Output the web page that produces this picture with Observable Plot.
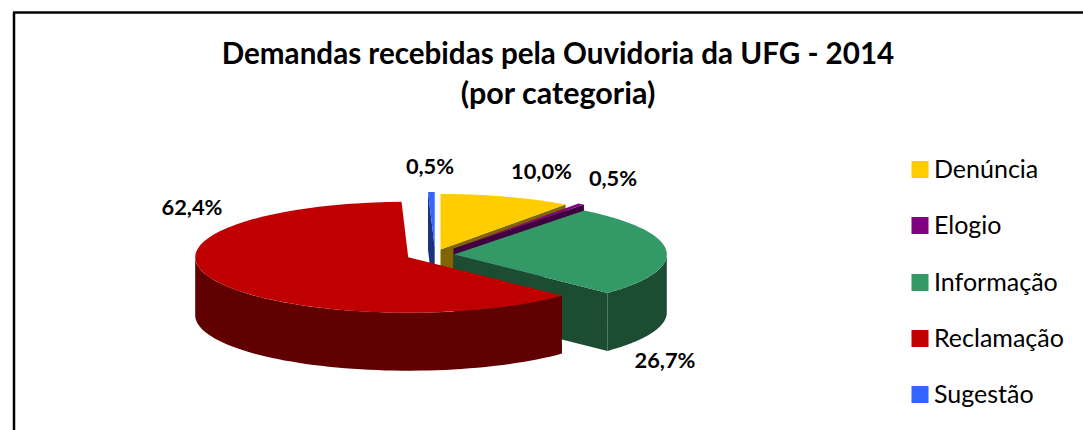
<!DOCTYPE html>
<html><head><meta charset="utf-8">
<style>html,body{margin:0;padding:0;background:#fff;overflow:hidden}svg{display:block}</style>
<script src="https://cdn.jsdelivr.net/npm/d3@7"></script>
<script src="https://cdn.jsdelivr.net/npm/@observablehq/plot@0.6"></script>
</head><body><div id="chart"></div>
<script>
const categories = ["Denúncia", "Elogio", "Informação", "Reclamação", "Sugestão"];
const shares = [10.0, 0.5, 26.7, 62.4, 0.5];
const shareLabels = ["10,0%", "0,5%", "26,7%", "62,4%", "0,5%"];
const topColors = ["#ffcc00", "#800080", "#339966", "#c00000", "#3366ff"];
const sideColors = ["#806600", "#400040", "#1c4d33", "#600000", "#1a3380"];
const titleLines = ["Demandas recebidas pela Ouvidoria da UFG - 2014", "(por categoria)"];

// pie layout
const W = 1083, H = 430;
const rx = 213, ry = 55.5, depth = 58, startDeg = 0;
const apexX = [440, 453, 453.3, 407.7, 434.2];
const apexY = [249, 248, 254, 256.7, 247];
const labelX = [541, 612.5, 664.5, 191.5, 429.5];
const labelY = [172, 179, 361, 208, 167];
const legendY = [169, 225, 282, 338, 394];

const total = d3.sum(shares);
const rad = d => d * Math.PI / 180;
let cum = startDeg;
const wedges = categories.map((c, i) => {
  const a0 = cum; cum += shares[i] / total * 360;
  return {i, a0, a1: cum, cx: apexX[i], cy: apexY[i]};
});
const rim = (w, a) => [w.cx + rx * Math.sin(rad(a)), w.cy - ry * Math.cos(rad(a))];
const arcPts = (w, a0, a1) => d3.range(0, 61).map(t => rim(w, a0 + (a1 - a0) * t / 60));

const polys = [];
const add = (pts, fill, key) => pts.forEach(p => polys.push({x: p[0], y: p[1], fill, key}));
const cutFace = (w, a, key) => {
  const r = rim(w, a);
  add([[w.cx, w.cy], r, [r[0], r[1] + depth], [w.cx, w.cy + depth]], sideColors[w.i], key);
};
[4, 0, 1, 2, 3].forEach(i => {
  const w = wedges[i];
  if (Math.sin(rad(w.a0)) < 0) cutFace(w, w.a0, i + "s");
  if (Math.sin(rad(w.a1)) > 0) cutFace(w, w.a1, i + "e");
  const from = Math.max(w.a0, 90), to = Math.min(w.a1, 270);
  if (to > from) {
    const top = arcPts(w, from, to);
    add(top.concat(top.slice().reverse().map(p => [p[0], p[1] + depth])), sideColors[i], i + "r");
  }
  add([[w.cx, w.cy]].concat(arcPts(w, w.a0, w.a1)), topColors[i], i + "t");
});

const legend = categories.map((c, i) => ({c, y: legendY[i], color: topColors[i]}));
const sliceLabels = shareLabels.map((t, i) => ({t, x: labelX[i], y: labelY[i]}));
const font = "Lato, Carlito, Calibri, sans-serif";

const chart = Plot.plot({
  width: W, height: H, margin: 0,
  x: {domain: [0, W], range: [0, W], axis: null},
  y: {domain: [0, H], range: [0, H], axis: null},
  color: {type: "identity"},
  style: {background: "#fff", fontFamily: font},
  marks: [
    Plot.line([[13.5, 430], [13.5, 12], [1083, 12]], {x: d => d[0], y: d => d[1], stroke: "#000", strokeWidth: 2.5}),
    Plot.line(polys, {x: "x", y: "y", z: "key", fill: "fill", stroke: "none", curve: "linear"}),
    Plot.text(titleLines, {x: () => 557.5, y: (d, i) => [54, 94][i], text: d => d, fontSize: (d, i) => [29.6, 30.5][i], fontWeight: 700, fill: "#000", textAnchor: "middle", fontFamily: font}),
    Plot.text(sliceLabels, {x: "x", y: "y", text: "t", fontSize: 21.8, fontWeight: 700, fill: "#000", textAnchor: "middle", fontFamily: font}),
    Plot.dot(legend, {x: () => 919.5, y: "y", symbol: "square", r: 9.6, fill: "color", stroke: "none"}),
    Plot.text(legend, {x: () => 933.5, y: "y", text: "c", fontSize: 25, fill: "#000", textAnchor: "start", fontFamily: font})
  ]
});
document.getElementById("chart").append(chart);
</script></body></html>
